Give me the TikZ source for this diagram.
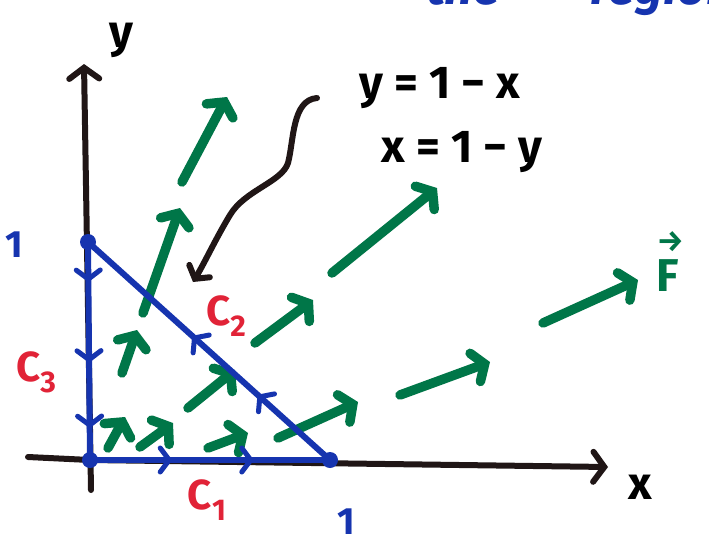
\documentclass[tikz,border=0pt]{standalone}
\usepackage{fontspec}
\setmainfont{Fira Sans}
\usetikzlibrary{arrows.meta,decorations.markings}
\definecolor{penGreen}{RGB}{0,118,72}
\definecolor{penBlue}{RGB}{22,52,175}
\definecolor{penRed}{RGB}{225,35,55}
\definecolor{penBlack}{RGB}{32,22,22}
\newcommand{\penSize}[1]{\fontsize{#1}{#1}\selectfont\bfseries}

\begin{document}
\begin{tikzpicture}[x=1pt,y=-1pt,
    axis/.style={line width=6pt, penBlack, line cap=round},
    barb/.style={-{Straight Barb[length=11pt,width=30pt,line cap=round]}},
    field/.style={line width=9.5pt, penGreen, line cap=round,
      -{Straight Barb[length=10pt,width=30pt,line cap=round]}},
    bluepath/.style={line width=6pt, penBlue, line cap=round},
    tick at/.style={postaction={decorate,decoration={markings,
      mark=at position #1 with {\draw[penBlue,line width=5pt,line cap=round,line join=round]
        (-9pt,-12pt) -- (0pt,0pt) -- (-9pt,12pt);}}}},
    lbl/.style={inner sep=0pt}]
  \useasboundingbox[fill=white] (0,0) rectangle (709,547);

  % cut off words at the top
  \node[lbl, anchor=base east, penBlue] (topA) at (500,4) {\penSize{50}\itshape the};
  \node[lbl, anchor=base west, penBlue] (topB) at (590,4) {\penSize{50}\itshape region};

  % axes
  \coordinate (O) at (90,460);
  \coordinate (xstart) at (28,457);
  \coordinate (xend) at (608,467);
  \coordinate (ystart) at (91,490);
  \coordinate (yend) at (84,64);
  \draw[axis] (xstart) -- (O);
  \draw[axis, barb] (O) -- (xend);
  \draw[axis, barb] (ystart) -- (yend);
  \node[lbl] (xlab) at (640,487) {\penSize{46}x};
  \node[lbl] (ylab) at (121,40) {\penSize{46}y};

  % field F
  \foreach \i/\sx/\sy/\ex/\ey in {1/182/182/227/97, 2/143/313/180/208,
      3/122/373/137/330, 4/108/448/125/417, 5/140/447/173/423,
      6/208/448/248/433, 7/188/408/235/370, 8/278/438/358/402,
      9/255/343/313/300, 10/332/273/437/188, 11/400/395/490/362,
      12/543/323/638/280} {
    \coordinate (s\i) at (\sx,\sy);
    \coordinate (e\i) at (\ex,\ey);
    \draw[field] (s\i) -- (e\i);
  }
  \node[lbl, penGreen] (F) at (668,262)
    {\penSize{46}\rlap{\raisebox{40pt}{\penSize{30}→}}F};

  % the closed curve C
  \coordinate (A) at (330,460);
  \coordinate (B) at (88,242);
  \draw[bluepath, tick at=0.33, tick at=0.67] (O) -- (A);
  \draw[bluepath, tick at=0.29, tick at=0.56] (A) -- (B);
  \draw[bluepath, tick at=0.17, tick at=0.54, tick at=0.84] (B) -- (O);
  \foreach \p in {O,A,B}
    \fill[penBlue] (\p) circle (8);

  \node[lbl, penBlue] (one x) at (346,522) {\penSize{38}1};
  \node[lbl, penBlue] (one y) at (14,245) {\penSize{38}1};
  \node[lbl, penRed] (C1) at (207,500) {\penSize{42}C\raisebox{-11pt}{\penSize{30}1}};
  \node[lbl, penRed] (C2) at (226,316) {\penSize{42}C\raisebox{-11pt}{\penSize{30}2}};
  \node[lbl, penRed] (C3) at (36,372) {\penSize{42}C\raisebox{-11pt}{\penSize{30}3}};

  % the line x+y=1
  \node[lbl] (eq1) at (440,88) {\penSize{46}y = 1 − x};
  \node[lbl] (eq2) at (462,152) {\penSize{46}x = 1 − y};
  \coordinate (eqtail) at (317,98);
  \coordinate (eqtip) at (193,282);
  \draw[axis, -{Straight Barb[length=9pt,width=24pt,line cap=round]}]
    (eqtail) .. controls (292,100) and (294,140) .. (288,163)
    .. controls (282,182) and (245,190) .. (230,215)
    .. controls (215,240) and (205,262) .. (eqtip);
\end{tikzpicture}
\end{document}
